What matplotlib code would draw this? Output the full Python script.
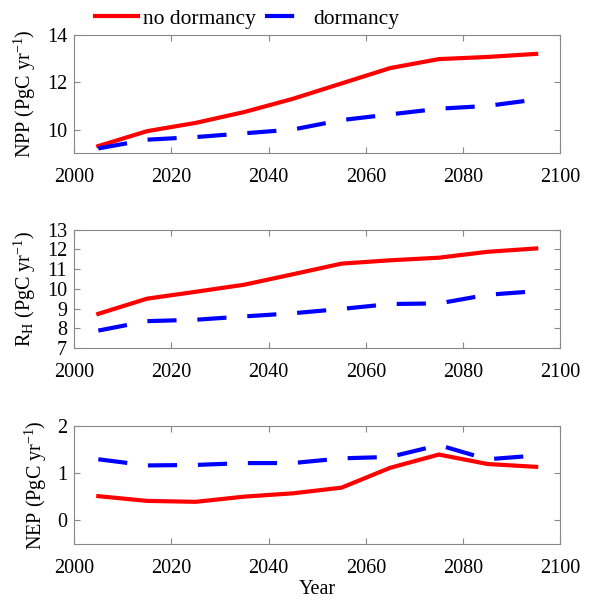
import numpy as np
import matplotlib.pyplot as plt

plt.rcParams['font.family'] = ['Liberation Serif', 'DejaVu Serif']
plt.rcParams['mathtext.fontset'] = 'custom'
plt.rcParams['mathtext.rm'] = 'Liberation Serif'
plt.rcParams['mathtext.it'] = 'Liberation Serif'

years = [2005, 2015, 2025, 2035, 2045, 2055, 2065, 2075, 2085, 2095]

npp_nodorm = [9.3, 9.93, 10.28, 10.74, 11.3, 11.95, 12.6, 12.98, 13.07, 13.2]
npp_dorm = [9.2, 9.57, 9.68, 9.84, 10.0, 10.4, 10.64, 10.88, 11.0, 11.27]

rh_nodorm = [8.73, 9.5, 9.85, 10.21, 10.74, 11.28, 11.45, 11.58, 11.88, 12.05]
rh_dorm = [7.88, 8.36, 8.43, 8.6, 8.76, 8.98, 9.23, 9.26, 9.7, 9.88]

nep_nodorm = [0.51, 0.41, 0.39, 0.5, 0.57, 0.69, 1.11, 1.39, 1.19, 1.13]
nep_dorm = [1.29, 1.16, 1.17, 1.21, 1.21, 1.31, 1.34, 1.59, 1.29, 1.37]

panels = [
    (npp_nodorm, npp_dorm, "NPP (PgC yr$^{-1}$)", (9, 14), [10, 12, 14]),
    (rh_nodorm, rh_dorm, "R$_H$ (PgC yr$^{-1}$)", (7, 13), [7, 8, 9, 10, 11, 12, 13]),
    (nep_nodorm, nep_dorm, "NEP (PgC yr$^{-1}$)", (-0.5, 2), [0, 1, 2]),
]

fig = plt.figure(figsize=(5.89, 6.03), dpi=100)
bottoms = [0.746, 0.423, 0.098]
axes = []
for (red, blue, ylab, ylim, yticks), b in zip(panels, bottoms):
    ax = fig.add_axes([0.1256, b, 0.826, 0.196])
    l1, = ax.plot(years, red, color='red', lw=3, label='no dormancy')
    l2, = ax.plot(years, blue, color='blue', lw=3, dashes=(7, 5), label='dormancy')
    ax.set_xlim(2000, 2100)
    ax.set_ylim(*ylim)
    ax.set_yticks(yticks)
    ax.set_xticks(np.arange(2000, 2101, 20))
    ax.set_ylabel(ylab, fontsize=14.5, labelpad=6)
    ax.tick_params(direction='in', top=True, right=True, labelsize=14.5,
                   color='#888888', length=4)
    ax.tick_params(axis='x', pad=11)
    ax.tick_params(axis='y', pad=5)
    for s in ax.spines.values():
        s.set_color('#888888')
    axes.append(ax)

axes[2].set_xlabel('Year', fontsize=14.5, labelpad=1)
fig.legend(handles=[l1, l2], loc='upper left', bbox_to_anchor=(0.128, 1.018),
           ncol=2, frameon=False, fontsize=15.5, handlelength=2.0,
           handletextpad=0.25, columnspacing=0.4)

fig.savefig('out.png', dpi=100)
